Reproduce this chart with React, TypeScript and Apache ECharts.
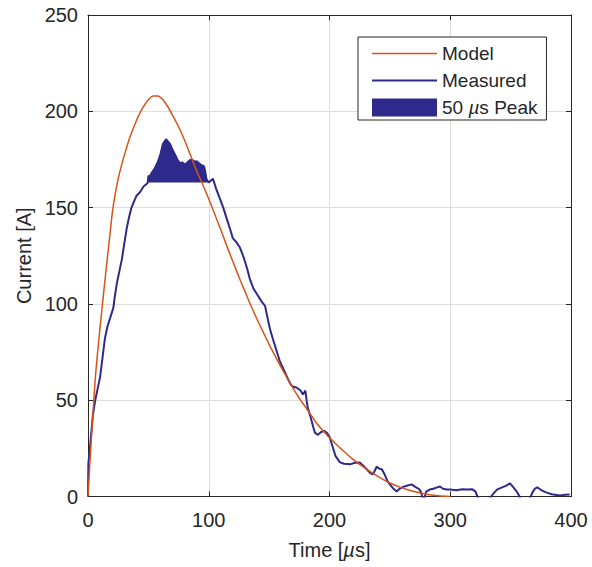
import React, { useEffect, useRef } from "react";
import * as echarts from "echarts";

// ---- Data ----
const modelTime = [0, 2, 4, 6, 8, 10, 12, 15, 18, 20.7, 25, 30, 35, 40, 45, 50, 54, 58, 62, 66, 70, 75, 80, 85, 90, 95, 100, 105, 110, 115, 120, 125, 130, 135, 140, 145, 150, 155, 160, 165, 170, 175, 180, 185, 190, 195, 200, 210, 220, 230, 240, 250, 260, 270, 280, 290, 300];
const modelCurrent = [0, 22, 42, 61, 75, 88, 100, 118, 135, 150, 165, 177, 187, 195, 201.5, 206, 208, 208, 206, 202.5, 198, 192, 185, 177, 169, 162, 154.5, 146.5, 138.5, 130, 122, 114, 106.5, 99, 92, 85.5, 79, 73, 67, 61.5, 56, 51, 46.5, 42, 37.5, 34, 30.5, 24.5, 19, 14.5, 10.5, 7, 4.5, 2.6, 1.2, 0.4, 0];

const measuredTime = [0, 0.3, 2, 4, 6, 8, 10, 12, 14, 16, 18, 20, 21, 22, 24, 26, 28, 30, 32, 34, 36, 38, 40, 43, 46, 48, 49.5, 50, 51, 52.7, 55, 58, 60, 62, 64.6, 66, 68, 70, 72, 74, 76, 78, 80, 81.7, 84, 86, 88, 90, 92, 94, 96, 97, 98, 100, 103.5, 106, 109, 112, 115, 117.6, 120, 123, 126, 129, 131.7, 134, 137, 140, 142, 144, 146.6, 148.6, 150.7, 153, 156.5, 159, 162, 165.6, 168, 170, 173, 176, 178, 180, 181, 182, 184, 186.6, 188, 190.5, 193, 196, 198, 200, 202, 205, 208.7, 212, 217, 221, 225, 228, 231, 234, 236, 238, 239, 241, 243.5, 246, 248, 250, 253, 255.6, 258, 261, 264, 268, 271, 274, 276, 277, 278.5, 280, 283, 286, 288, 291.5, 294, 297, 300, 305, 310, 314, 318, 321, 323, 328, 333, 335, 338.7, 342, 346, 349.5, 352, 355, 357, 358, 362, 366, 368, 370, 372, 375, 378, 380, 384, 388, 391, 395, 399];
const measuredCurrent = [0, 17, 28, 42, 50, 56, 62, 72, 82, 88, 92, 96, 98, 103, 111, 117, 123, 131, 139, 145, 150, 153, 156, 158, 161, 162, 163, 166.5, 166, 168, 170, 174, 177.6, 183, 185.5, 184.5, 183, 180, 177.6, 175, 173, 173.5, 172.5, 173, 174.5, 175, 174, 174, 173, 172, 171.5, 169, 165, 163, 165, 160, 155, 150, 144, 139, 134, 132, 129, 124, 118.5, 113, 108, 105, 103, 101, 99, 93, 87, 82, 75, 70, 66, 61, 58, 57, 56.5, 55, 53, 55, 50, 46, 42, 36, 33, 32, 33.5, 34, 33, 31, 27, 21, 17.7, 17, 16.7, 17.5, 17.7, 16, 14, 12, 11.5, 14, 15.5, 14.5, 14, 11, 8, 6.3, 4, 2.6, 4, 5, 5.6, 6.3, 5, 4, 2, -1, -1, 2.5, 3.6, 4, 4.5, 5.2, 4, 3.6, 3.6, 3.2, 3.8, 3.6, 3.8, 2.5, -1, -2, -1, 1, 3.6, 4.5, 5.5, 6.8, 5, 2.6, 0.5, -1, -2, -1, 2, 4, 4.8, 3.5, 2.5, 2, 1.2, 0.8, 0.5, 0.9, 1];

const peakStart = 50;
const peakEnd = 100;
const peakBase = 163;

const xTicks = [0, 100, 200, 300, 400];
const yTicks = [0, 50, 100, 150, 200, 250];

const seriesNames = ["Model", "Measured", "50 µs Peak"];

const FONT = "'Liberation Sans', Arial, Helvetica, sans-serif";
const AXIS_COLOR = "#262626";
const ORANGE = "#d95319";
const BLUE = "#2d2a8c";

export default function App() {
  const ref = useRef<HTMLDivElement>(null);

  useEffect(() => {
    if (!ref.current) return;
    const chart = echarts.init(ref.current, undefined, { renderer: "svg" });

    const modelData = modelTime.map((t, i) => [t, modelCurrent[i]]);
    const measuredData = measuredTime.map((t, i) => [t, measuredCurrent[i]]);
    const peakData = measuredData.filter((p) => p[0] >= peakStart && p[0] <= peakEnd);

    const xMin = xTicks[0];
    const xMax = xTicks[xTicks.length - 1];
    const xInt = xTicks[1] - xTicks[0];
    const yMin = yTicks[0];
    const yMax = yTicks[yTicks.length - 1];
    const yInt = yTicks[1] - yTicks[0];

    const labelStyle = { color: AXIS_COLOR, fontSize: 20, fontFamily: FONT };
    const nameStyle = {
      color: AXIS_COLOR,
      fontSize: 20,
      fontFamily: FONT,
      rich: { i: { fontStyle: "italic", fontSize: 20, fontFamily: FONT, color: AXIS_COLOR } },
    };

    const frameAxis = {
      type: "value" as const,
      axisLine: { show: true, onZero: false, lineStyle: { color: AXIS_COLOR, width: 1 } },
      axisTick: { show: true, inside: true, length: 5, lineStyle: { color: AXIS_COLOR } },
      axisLabel: { show: false },
      splitLine: { show: false },
    };

    chart.setOption({
      animation: false,
      backgroundColor: "#ffffff",
      grid: { left: 88, right: 21, top: 15, bottom: 70.5, containLabel: false },
      legend: {
        orient: "vertical",
        left: 358,
        top: 37,
        padding: [7, 9, 3, 14],
        itemGap: 8,
        itemWidth: 65,
        itemHeight: 18,
        borderColor: AXIS_COLOR,
        borderWidth: 1,
        backgroundColor: "#ffffff",
        selectedMode: false,
        symbolKeepAspect: true,
        textStyle: {
          fontSize: 19,
          color: AXIS_COLOR,
          fontFamily: FONT,
          rich: { i: { fontStyle: "italic", fontSize: 19, fontFamily: FONT, color: AXIS_COLOR } },
        },
        formatter: (n: string) => n.replace("µ", "{i|µ}"),
        data: [
          { name: seriesNames[0], icon: "path://M0,0L65,0L65,1.5L0,1.5Z", itemStyle: { color: ORANGE } },
          { name: seriesNames[1], icon: "path://M0,0L65,0L65,2L0,2Z", itemStyle: { color: BLUE } },
          { name: seriesNames[2], icon: "rect", itemStyle: { color: BLUE } },
        ],
      },
      xAxis: [
        {
          type: "value",
          min: xMin,
          max: xMax,
          interval: xInt,
          position: "bottom",
          axisLine: { show: true, onZero: false, lineStyle: { color: AXIS_COLOR, width: 1 } },
          axisTick: { show: true, inside: true, length: 5, lineStyle: { color: AXIS_COLOR } },
          axisLabel: { ...labelStyle, margin: 13 },
          splitLine: { show: true, lineStyle: { color: "#dedede", width: 1 } },
          name: "Time [{i|µ}s]",
          nameLocation: "middle",
          nameGap: 43,
          nameTextStyle: nameStyle,
        },
        { ...frameAxis, min: xMin, max: xMax, interval: xInt, position: "top" },
      ],
      yAxis: [
        {
          type: "value",
          min: yMin,
          max: yMax,
          interval: yInt,
          position: "left",
          axisLine: { show: true, onZero: false, lineStyle: { color: AXIS_COLOR, width: 1 } },
          axisTick: { show: true, inside: true, length: 5, lineStyle: { color: AXIS_COLOR } },
          axisLabel: { ...labelStyle, margin: 10 },
          splitLine: { show: true, lineStyle: { color: "#dedede", width: 1 } },
          name: "Current [A]",
          nameLocation: "middle",
          nameGap: 52,
          nameRotate: 90,
          nameTextStyle: nameStyle,
        },
        { ...frameAxis, min: yMin, max: yMax, interval: yInt, position: "right" },
      ],
      series: [
        {
          name: seriesNames[2],
          type: "line",
          data: peakData,
          symbol: "none",
          lineStyle: { color: BLUE, width: 1 },
          itemStyle: { color: BLUE },
          areaStyle: { color: BLUE, opacity: 1, origin: peakBase },
          z: 2,
        },
        {
          name: seriesNames[1],
          type: "line",
          data: measuredData,
          symbol: "none",
          lineStyle: { color: BLUE, width: 2 },
          itemStyle: { color: BLUE },
          z: 3,
        },
        {
          name: seriesNames[0],
          type: "line",
          data: modelData,
          symbol: "none",
          smooth: 0.3,
          lineStyle: { color: ORANGE, width: 1.5 },
          itemStyle: { color: ORANGE },
          z: 4,
        },
      ],
    });

    return () => chart.dispose();
  }, []);

  return (
    <div
      ref={ref}
      style={{ position: "absolute", left: 0, top: 0, width: 592, height: 567, background: "#fff" }}
    />
  );
}
